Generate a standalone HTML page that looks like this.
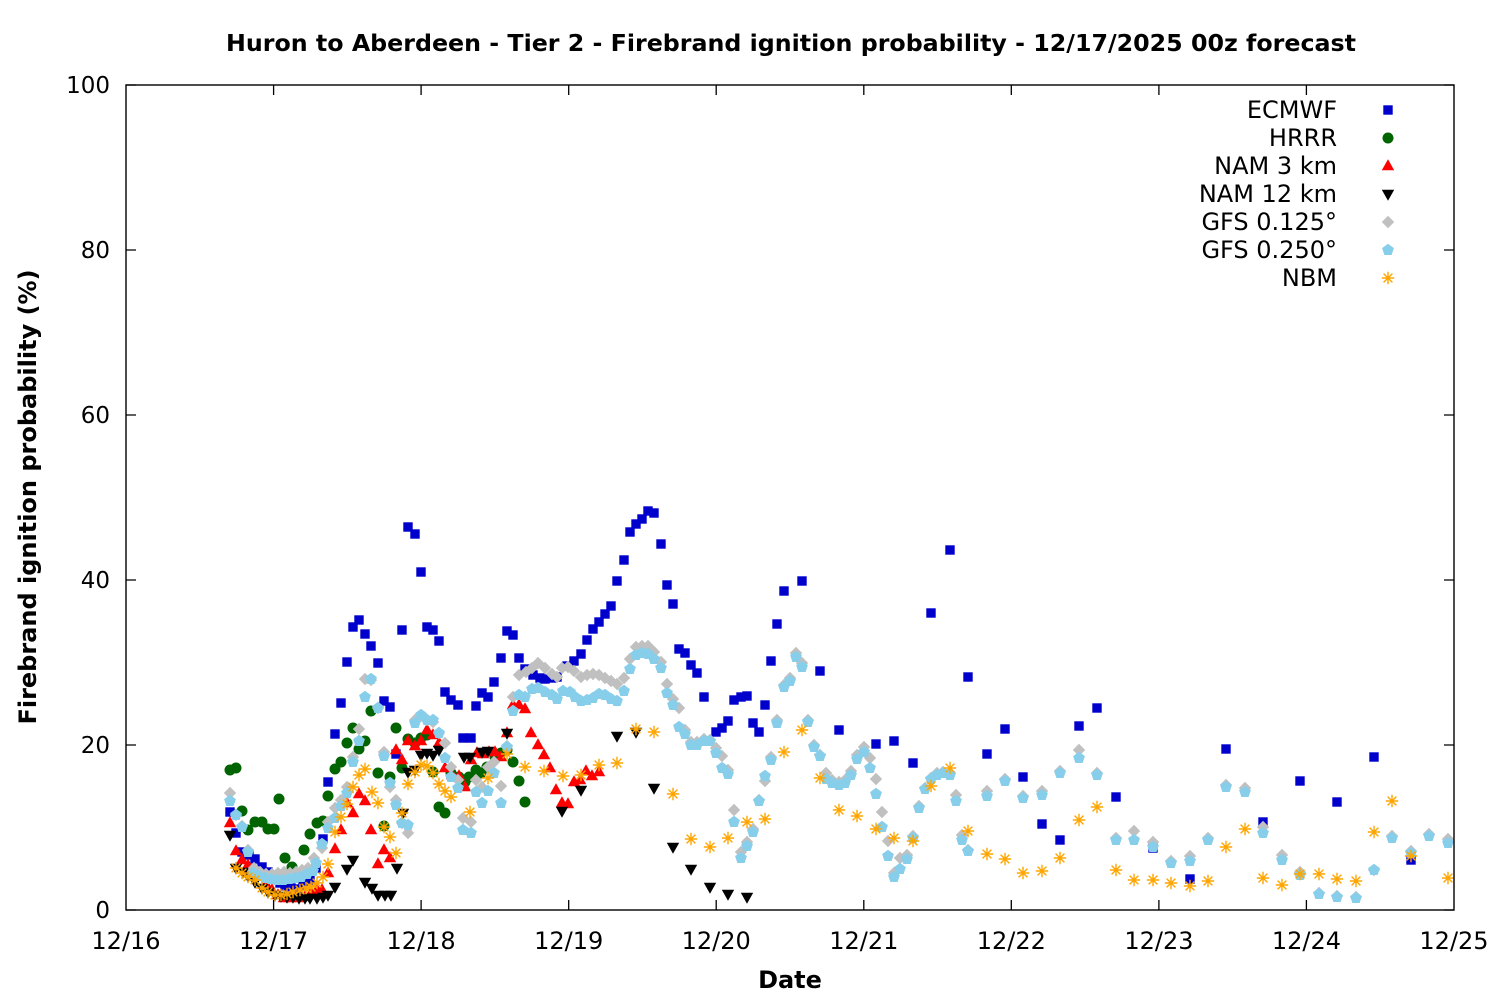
<!DOCTYPE html>
<html><head><meta charset="utf-8"><style>
html,body{margin:0;padding:0;background:#fff;}
svg{display:block;}
text{font-family:"DejaVu Sans","Liberation Sans",sans-serif;fill:#000;}
</style></head><body>
<svg width="1500" height="1000" viewBox="0 0 1500 1000" xmlns="http://www.w3.org/2000/svg">
<defs>
<rect id="sq" x="-4.7" y="-4.7" width="9.4" height="9.4" fill="#0000cc"/>
<circle id="ci" r="5.5" fill="#006400"/>
<polygon id="tu" points="0,-6.8 6.2,4.2 -6.2,4.2" fill="#ff0000"/>
<polygon id="td" points="0,6.8 6.2,-4.2 -6.2,-4.2" fill="#000000"/>
<polygon id="di" points="0,-6.2 6.2,0 0,6.2 -6.2,0" fill="#c0c0c0"/>
<polygon id="pe" points="0,-6.2 5.9,-1.9 3.6,5 -3.6,5 -5.9,-1.9" fill="#87ceeb"/>
<g id="st" stroke="#ffa500" stroke-width="1.4" fill="none"><path d="M-6.2,0H6.2M0,-6.2V6.2M-4.4,-4.4L4.4,4.4M-4.4,4.4L4.4,-4.4"/></g>
</defs>
<rect x="0" y="0" width="1500" height="1000" fill="#fff"/>
<text x="791" y="51" text-anchor="middle" font-size="23" font-weight="bold" textLength="1130" lengthAdjust="spacingAndGlyphs">Huron to Aberdeen - Tier 2 - Firebrand ignition probability - 12/17/2025 00z forecast</text>

<g stroke="#000" stroke-width="1.3">
<path d="M126,910H136M1454,910H1444M126,745H136M1454,745H1444M126,580H136M1454,580H1444M126,415H136M1454,415H1444M126,250H136M1454,250H1444M126,85H136M1454,85H1444"/>
<path d="M273.6,910V900M273.6,85V95M421.1,910V900M421.1,85V95M568.7,910V900M568.7,85V95M716.2,910V900M716.2,85V95M863.8,910V900M863.8,85V95M1011.3,910V900M1011.3,85V95M1158.9,910V900M1158.9,85V95M1306.4,910V900M1306.4,85V95"/>
</g>

<g font-size="23" text-anchor="end">
<text x="110" y="918">0</text>
<text x="110" y="753">20</text>
<text x="110" y="588">40</text>
<text x="110" y="423">60</text>
<text x="110" y="258">80</text>
<text x="110" y="93">100</text>
</g>
<g font-size="24" text-anchor="middle">
<text x="126" y="949">12/16</text>
<text x="273.6" y="949">12/17</text>
<text x="421.1" y="949">12/18</text>
<text x="568.7" y="949">12/19</text>
<text x="716.2" y="949">12/20</text>
<text x="863.8" y="949">12/21</text>
<text x="1011.3" y="949">12/22</text>
<text x="1158.9" y="949">12/23</text>
<text x="1306.4" y="949">12/24</text>
<text x="1454" y="949">12/25</text>
</g>
<text x="790" y="988" text-anchor="middle" font-size="24" font-weight="bold">Date</text>
<text transform="translate(36,497) rotate(-90)" text-anchor="middle" font-size="24" font-weight="bold">Firebrand ignition probability (%)</text>

<!-- legend -->
<g font-size="24" text-anchor="end">
<text x="1337" y="118">ECMWF</text>
<text x="1337" y="146">HRRR</text>
<text x="1337" y="174">NAM 3 km</text>
<text x="1337" y="202">NAM 12 km</text>
<text x="1337" y="230">GFS 0.125°</text>
<text x="1337" y="258">GFS 0.250°</text>
<text x="1337" y="286">NBM</text>
</g>
<use href="#sq" x="1388" y="110"/>
<use href="#ci" x="1388" y="138"/>
<use href="#tu" x="1388" y="166"/>
<use href="#td" x="1388" y="194"/>
<use href="#di" x="1388" y="222"/>
<use href="#pe" x="1388" y="250"/>
<use href="#st" x="1388" y="278"/>

<!-- ECMWF -->
<g>
<use href="#sq" x="230" y="812"/><use href="#sq" x="236" y="833"/><use href="#sq" x="242" y="852"/><use href="#sq" x="249" y="855"/><use href="#sq" x="255" y="859"/><use href="#sq" x="262" y="867"/><use href="#sq" x="268" y="872"/><use href="#sq" x="274" y="878"/><use href="#sq" x="280" y="883"/><use href="#sq" x="285" y="886"/><use href="#sq" x="291" y="888"/><use href="#sq" x="297" y="889"/><use href="#sq" x="303" y="885"/><use href="#sq" x="310" y="880"/><use href="#sq" x="316" y="868"/><use href="#sq" x="323" y="839"/><use href="#sq" x="328" y="782"/><use href="#sq" x="335" y="734"/><use href="#sq" x="341" y="703"/><use href="#sq" x="347" y="662"/><use href="#sq" x="353" y="627"/><use href="#sq" x="359" y="620"/><use href="#sq" x="365" y="634"/><use href="#sq" x="371" y="646"/><use href="#sq" x="378" y="663"/><use href="#sq" x="384" y="701"/><use href="#sq" x="390" y="707"/><use href="#sq" x="396" y="754"/><use href="#sq" x="402" y="630"/><use href="#sq" x="408" y="527"/><use href="#sq" x="415" y="534"/><use href="#sq" x="421" y="572"/><use href="#sq" x="427" y="627"/><use href="#sq" x="433" y="630"/><use href="#sq" x="439" y="641"/><use href="#sq" x="445" y="692"/><use href="#sq" x="451" y="700"/><use href="#sq" x="458" y="705"/><use href="#sq" x="463" y="738"/><use href="#sq" x="471" y="738"/><use href="#sq" x="476" y="706"/><use href="#sq" x="482" y="693"/><use href="#sq" x="488" y="697"/><use href="#sq" x="494" y="682"/><use href="#sq" x="501" y="658"/><use href="#sq" x="507" y="631"/><use href="#sq" x="513" y="635"/><use href="#sq" x="519" y="658"/><use href="#sq" x="525" y="669"/><use href="#sq" x="533" y="675"/><use href="#sq" x="540" y="678"/><use href="#sq" x="545" y="679"/><use href="#sq" x="552" y="678"/><use href="#sq" x="557" y="677"/><use href="#sq" x="567" y="666"/><use href="#sq" x="574" y="661"/><use href="#sq" x="581" y="654"/><use href="#sq" x="587" y="640"/><use href="#sq" x="593" y="629"/><use href="#sq" x="599" y="622"/><use href="#sq" x="605" y="614"/><use href="#sq" x="611" y="606"/><use href="#sq" x="617" y="581"/><use href="#sq" x="624" y="560"/><use href="#sq" x="630" y="532"/><use href="#sq" x="636" y="524"/><use href="#sq" x="642" y="519"/><use href="#sq" x="648" y="511"/><use href="#sq" x="654" y="513"/><use href="#sq" x="661" y="544"/><use href="#sq" x="667" y="585"/><use href="#sq" x="673" y="604"/><use href="#sq" x="679" y="649"/><use href="#sq" x="685" y="653"/><use href="#sq" x="691" y="665"/><use href="#sq" x="697" y="673"/><use href="#sq" x="704" y="697"/><use href="#sq" x="716" y="732"/><use href="#sq" x="722" y="728"/><use href="#sq" x="728" y="721"/><use href="#sq" x="734" y="700"/><use href="#sq" x="741" y="697"/><use href="#sq" x="747" y="696"/><use href="#sq" x="753" y="723"/><use href="#sq" x="759" y="732"/><use href="#sq" x="765" y="705"/><use href="#sq" x="771" y="661"/><use href="#sq" x="777" y="624"/><use href="#sq" x="784" y="591"/><use href="#sq" x="802" y="581"/><use href="#sq" x="820" y="671"/><use href="#sq" x="839" y="730"/><use href="#sq" x="876" y="744"/><use href="#sq" x="894" y="741"/><use href="#sq" x="913" y="763"/><use href="#sq" x="931" y="613"/><use href="#sq" x="950" y="550"/><use href="#sq" x="968" y="677"/><use href="#sq" x="987" y="754"/><use href="#sq" x="1005" y="729"/><use href="#sq" x="1023" y="777"/><use href="#sq" x="1042" y="824"/><use href="#sq" x="1060" y="840"/><use href="#sq" x="1079" y="726"/><use href="#sq" x="1097" y="708"/><use href="#sq" x="1116" y="797"/><use href="#sq" x="1153" y="848"/><use href="#sq" x="1190" y="879"/><use href="#sq" x="1226" y="749"/><use href="#sq" x="1263" y="822"/><use href="#sq" x="1300" y="781"/><use href="#sq" x="1337" y="802"/><use href="#sq" x="1374" y="757"/><use href="#sq" x="1411" y="860"/>
</g>

<!-- HRRR -->
<g>
<use href="#ci" x="230" y="770"/><use href="#ci" x="236" y="768"/><use href="#ci" x="242" y="811"/><use href="#ci" x="248" y="830"/><use href="#ci" x="255" y="822"/><use href="#ci" x="262" y="822"/><use href="#ci" x="268" y="829"/><use href="#ci" x="274" y="829"/><use href="#ci" x="279" y="799"/><use href="#ci" x="285" y="858"/><use href="#ci" x="292" y="867"/><use href="#ci" x="298" y="875"/><use href="#ci" x="304" y="850"/><use href="#ci" x="310" y="834"/><use href="#ci" x="317" y="823"/><use href="#ci" x="323" y="821"/><use href="#ci" x="328" y="796"/><use href="#ci" x="335" y="769"/><use href="#ci" x="341" y="762"/><use href="#ci" x="347" y="743"/><use href="#ci" x="353" y="728"/><use href="#ci" x="359" y="749"/><use href="#ci" x="365" y="741"/><use href="#ci" x="371" y="711"/><use href="#ci" x="378" y="773"/><use href="#ci" x="384" y="826"/><use href="#ci" x="390" y="777"/><use href="#ci" x="396" y="728"/><use href="#ci" x="402" y="768"/><use href="#ci" x="408" y="739"/><use href="#ci" x="415" y="743"/><use href="#ci" x="421" y="738"/><use href="#ci" x="427" y="735"/><use href="#ci" x="433" y="772"/><use href="#ci" x="439" y="807"/><use href="#ci" x="445" y="813"/><use href="#ci" x="451" y="773"/><use href="#ci" x="459" y="777"/><use href="#ci" x="465" y="782"/><use href="#ci" x="469" y="777"/><use href="#ci" x="476" y="770"/><use href="#ci" x="481" y="773"/><use href="#ci" x="487" y="767"/><use href="#ci" x="495" y="757"/><use href="#ci" x="501" y="753"/><use href="#ci" x="507" y="750"/><use href="#ci" x="513" y="762"/><use href="#ci" x="519" y="781"/><use href="#ci" x="525" y="802"/>
</g>

<!-- NAM 3 km -->
<g>
<use href="#tu" x="230" y="823"/><use href="#tu" x="236" y="851"/><use href="#tu" x="242" y="860"/><use href="#tu" x="248" y="865"/><use href="#tu" x="254" y="870"/><use href="#tu" x="260" y="876"/><use href="#tu" x="266" y="884"/><use href="#tu" x="272" y="890"/><use href="#tu" x="278" y="895"/><use href="#tu" x="284" y="898"/><use href="#tu" x="290" y="898"/><use href="#tu" x="297" y="898"/><use href="#tu" x="305" y="897"/><use href="#tu" x="311" y="893"/><use href="#tu" x="317" y="890"/><use href="#tu" x="322" y="890"/><use href="#tu" x="328" y="873"/><use href="#tu" x="335" y="849"/><use href="#tu" x="341" y="830"/><use href="#tu" x="347" y="803"/><use href="#tu" x="353" y="813"/><use href="#tu" x="359" y="794"/><use href="#tu" x="365" y="801"/><use href="#tu" x="371" y="830"/><use href="#tu" x="378" y="864"/><use href="#tu" x="384" y="850"/><use href="#tu" x="390" y="858"/><use href="#tu" x="396" y="750"/><use href="#tu" x="402" y="760"/><use href="#tu" x="408" y="741"/><use href="#tu" x="415" y="746"/><use href="#tu" x="421" y="741"/><use href="#tu" x="427" y="730"/><use href="#tu" x="433" y="735"/><use href="#tu" x="439" y="743"/><use href="#tu" x="445" y="768"/><use href="#tu" x="452" y="775"/><use href="#tu" x="459" y="776"/><use href="#tu" x="465" y="787"/><use href="#tu" x="471" y="760"/><use href="#tu" x="477" y="753"/><use href="#tu" x="483" y="754"/><use href="#tu" x="489" y="752"/><use href="#tu" x="495" y="752"/><use href="#tu" x="501" y="757"/><use href="#tu" x="507" y="733"/><use href="#tu" x="513" y="705"/><use href="#tu" x="519" y="705"/><use href="#tu" x="525" y="709"/><use href="#tu" x="531" y="733"/><use href="#tu" x="538" y="745"/><use href="#tu" x="544" y="755"/><use href="#tu" x="550" y="768"/><use href="#tu" x="556" y="790"/><use href="#tu" x="562" y="803"/><use href="#tu" x="568" y="804"/><use href="#tu" x="574" y="782"/><use href="#tu" x="580" y="780"/><use href="#tu" x="586" y="771"/><use href="#tu" x="592" y="776"/><use href="#tu" x="599" y="772"/>
</g>

<!-- NAM 12 km -->
<g>
<use href="#td" x="230" y="835"/><use href="#td" x="236" y="868"/><use href="#td" x="243" y="872"/><use href="#td" x="248" y="876"/><use href="#td" x="255" y="882"/><use href="#td" x="262" y="888"/><use href="#td" x="268" y="892"/><use href="#td" x="275" y="895"/><use href="#td" x="281" y="896"/><use href="#td" x="287" y="897"/><use href="#td" x="293" y="897"/><use href="#td" x="299" y="898"/><use href="#td" x="305" y="898"/><use href="#td" x="310" y="898"/><use href="#td" x="317" y="898"/><use href="#td" x="323" y="897"/><use href="#td" x="328" y="895"/><use href="#td" x="335" y="887"/><use href="#td" x="347" y="869"/><use href="#td" x="353" y="860"/><use href="#td" x="365" y="882"/><use href="#td" x="372" y="888"/><use href="#td" x="378" y="895"/><use href="#td" x="385" y="895"/><use href="#td" x="391" y="895"/><use href="#td" x="397" y="868"/><use href="#td" x="403" y="813"/><use href="#td" x="408" y="772"/><use href="#td" x="415" y="770"/><use href="#td" x="421" y="755"/><use href="#td" x="427" y="753"/><use href="#td" x="433" y="755"/><use href="#td" x="439" y="750"/><use href="#td" x="464" y="757"/><use href="#td" x="470" y="757"/><use href="#td" x="482" y="752"/><use href="#td" x="488" y="751"/><use href="#td" x="507" y="733"/><use href="#td" x="562" y="811"/><use href="#td" x="581" y="790"/><use href="#td" x="617" y="736"/><use href="#td" x="636" y="732"/><use href="#td" x="654" y="788"/><use href="#td" x="673" y="847"/><use href="#td" x="691" y="869"/><use href="#td" x="710" y="887"/><use href="#td" x="728" y="894"/><use href="#td" x="747" y="897"/>
</g>

<!-- GFS 0.125 -->
<g>
<use href="#di" x="230" y="793"/><use href="#di" x="236" y="815"/><use href="#di" x="242" y="826"/><use href="#di" x="248" y="850"/><use href="#di" x="254" y="868"/><use href="#di" x="260" y="872"/><use href="#di" x="266" y="874"/><use href="#di" x="272" y="874"/><use href="#di" x="278" y="873"/><use href="#di" x="284" y="872"/><use href="#di" x="290" y="873"/><use href="#di" x="296" y="872"/><use href="#di" x="302" y="870"/><use href="#di" x="308" y="868"/><use href="#di" x="314" y="858"/><use href="#di" x="322" y="848"/><use href="#di" x="328" y="822"/><use href="#di" x="335" y="808"/><use href="#di" x="341" y="800"/><use href="#di" x="347" y="787"/><use href="#di" x="353" y="757"/><use href="#di" x="359" y="729"/><use href="#di" x="365" y="679"/><use href="#di" x="371" y="680"/><use href="#di" x="378" y="708"/><use href="#di" x="384" y="752"/><use href="#di" x="390" y="787"/><use href="#di" x="396" y="800"/><use href="#di" x="402" y="823"/><use href="#di" x="408" y="833"/><use href="#di" x="415" y="720"/><use href="#di" x="421" y="716"/><use href="#di" x="427" y="720"/><use href="#di" x="433" y="722"/><use href="#di" x="439" y="733"/><use href="#di" x="445" y="743"/><use href="#di" x="451" y="767"/><use href="#di" x="458" y="780"/><use href="#di" x="463" y="818"/><use href="#di" x="471" y="822"/><use href="#di" x="476" y="780"/><use href="#di" x="482" y="787"/><use href="#di" x="488" y="767"/><use href="#di" x="494" y="762"/><use href="#di" x="501" y="786"/><use href="#di" x="507" y="746"/><use href="#di" x="513" y="697"/><use href="#di" x="519" y="675"/><use href="#di" x="526" y="672"/><use href="#di" x="532" y="668"/><use href="#di" x="538" y="663"/><use href="#di" x="545" y="668"/><use href="#di" x="552" y="674"/><use href="#di" x="557" y="677"/><use href="#di" x="562" y="668"/><use href="#di" x="568" y="667"/><use href="#di" x="574" y="671"/><use href="#di" x="581" y="677"/><use href="#di" x="587" y="675"/><use href="#di" x="593" y="674"/><use href="#di" x="599" y="675"/><use href="#di" x="605" y="678"/><use href="#di" x="611" y="681"/><use href="#di" x="617" y="684"/><use href="#di" x="624" y="678"/><use href="#di" x="630" y="659"/><use href="#di" x="636" y="647"/><use href="#di" x="642" y="646"/><use href="#di" x="648" y="646"/><use href="#di" x="654" y="652"/><use href="#di" x="661" y="662"/><use href="#di" x="667" y="684"/><use href="#di" x="673" y="699"/><use href="#di" x="679" y="708"/><use href="#di" x="685" y="730"/><use href="#di" x="691" y="742"/><use href="#di" x="697" y="742"/><use href="#di" x="704" y="739"/><use href="#di" x="710" y="740"/><use href="#di" x="716" y="748"/><use href="#di" x="722" y="756"/><use href="#di" x="728" y="770"/><use href="#di" x="734" y="810"/><use href="#di" x="741" y="852"/><use href="#di" x="747" y="842"/><use href="#di" x="753" y="829"/><use href="#di" x="759" y="800"/><use href="#di" x="765" y="781"/><use href="#di" x="771" y="757"/><use href="#di" x="777" y="720"/><use href="#di" x="784" y="685"/><use href="#di" x="790" y="678"/><use href="#di" x="796" y="653"/><use href="#di" x="802" y="663"/><use href="#di" x="808" y="720"/><use href="#di" x="814" y="745"/><use href="#di" x="820" y="755"/><use href="#di" x="826" y="773"/><use href="#di" x="832" y="780"/><use href="#di" x="839" y="782"/><use href="#di" x="845" y="780"/><use href="#di" x="851" y="771"/><use href="#di" x="857" y="755"/><use href="#di" x="864" y="747"/><use href="#di" x="870" y="758"/><use href="#di" x="876" y="779"/><use href="#di" x="882" y="812"/><use href="#di" x="888" y="841"/><use href="#di" x="894" y="873"/><use href="#di" x="900" y="858"/><use href="#di" x="907" y="855"/><use href="#di" x="913" y="836"/><use href="#di" x="919" y="806"/><use href="#di" x="925" y="788"/><use href="#di" x="931" y="778"/><use href="#di" x="937" y="773"/><use href="#di" x="943" y="772"/><use href="#di" x="950" y="773"/><use href="#di" x="956" y="795"/><use href="#di" x="962" y="835"/><use href="#di" x="968" y="850"/><use href="#di" x="987" y="791"/><use href="#di" x="1005" y="779"/><use href="#di" x="1023" y="796"/><use href="#di" x="1042" y="791"/><use href="#di" x="1060" y="771"/><use href="#di" x="1079" y="750"/><use href="#di" x="1097" y="773"/><use href="#di" x="1116" y="838"/><use href="#di" x="1134" y="831"/><use href="#di" x="1153" y="842"/><use href="#di" x="1171" y="861"/><use href="#di" x="1190" y="856"/><use href="#di" x="1208" y="838"/><use href="#di" x="1226" y="785"/><use href="#di" x="1245" y="788"/><use href="#di" x="1263" y="827"/><use href="#di" x="1282" y="855"/><use href="#di" x="1300" y="872"/><use href="#di" x="1319" y="893"/><use href="#di" x="1337" y="896"/><use href="#di" x="1356" y="897"/><use href="#di" x="1374" y="870"/><use href="#di" x="1392" y="836"/><use href="#di" x="1411" y="851"/><use href="#di" x="1429" y="834"/><use href="#di" x="1448" y="839"/>
</g>

<!-- GFS 0.250 -->
<g>
<use href="#pe" x="230" y="801"/><use href="#pe" x="236" y="815"/><use href="#pe" x="242" y="827"/><use href="#pe" x="248" y="852"/><use href="#pe" x="253" y="873"/><use href="#pe" x="259" y="876"/><use href="#pe" x="265" y="878"/><use href="#pe" x="271" y="879"/><use href="#pe" x="277" y="880"/><use href="#pe" x="283" y="880"/><use href="#pe" x="289" y="879"/><use href="#pe" x="295" y="878"/><use href="#pe" x="301" y="877"/><use href="#pe" x="307" y="874"/><use href="#pe" x="313" y="871"/><use href="#pe" x="316" y="863"/><use href="#pe" x="322" y="844"/><use href="#pe" x="328" y="828"/><use href="#pe" x="335" y="818"/><use href="#pe" x="341" y="806"/><use href="#pe" x="347" y="793"/><use href="#pe" x="353" y="762"/><use href="#pe" x="359" y="741"/><use href="#pe" x="365" y="697"/><use href="#pe" x="371" y="679"/><use href="#pe" x="378" y="708"/><use href="#pe" x="384" y="756"/><use href="#pe" x="390" y="783"/><use href="#pe" x="396" y="805"/><use href="#pe" x="402" y="823"/><use href="#pe" x="408" y="825"/><use href="#pe" x="415" y="723"/><use href="#pe" x="421" y="715"/><use href="#pe" x="427" y="720"/><use href="#pe" x="433" y="720"/><use href="#pe" x="439" y="733"/><use href="#pe" x="445" y="758"/><use href="#pe" x="451" y="777"/><use href="#pe" x="458" y="788"/><use href="#pe" x="463" y="830"/><use href="#pe" x="471" y="833"/><use href="#pe" x="476" y="792"/><use href="#pe" x="482" y="803"/><use href="#pe" x="488" y="791"/><use href="#pe" x="494" y="773"/><use href="#pe" x="501" y="803"/><use href="#pe" x="507" y="747"/><use href="#pe" x="513" y="711"/><use href="#pe" x="519" y="695"/><use href="#pe" x="525" y="697"/><use href="#pe" x="532" y="689"/><use href="#pe" x="538" y="688"/><use href="#pe" x="545" y="692"/><use href="#pe" x="552" y="695"/><use href="#pe" x="557" y="699"/><use href="#pe" x="563" y="691"/><use href="#pe" x="570" y="692"/><use href="#pe" x="575" y="697"/><use href="#pe" x="581" y="701"/><use href="#pe" x="587" y="700"/><use href="#pe" x="593" y="698"/><use href="#pe" x="599" y="694"/><use href="#pe" x="605" y="695"/><use href="#pe" x="611" y="699"/><use href="#pe" x="617" y="701"/><use href="#pe" x="624" y="691"/><use href="#pe" x="630" y="669"/><use href="#pe" x="636" y="655"/><use href="#pe" x="642" y="653"/><use href="#pe" x="648" y="654"/><use href="#pe" x="654" y="659"/><use href="#pe" x="661" y="668"/><use href="#pe" x="667" y="693"/><use href="#pe" x="673" y="705"/><use href="#pe" x="679" y="727"/><use href="#pe" x="685" y="734"/><use href="#pe" x="691" y="745"/><use href="#pe" x="697" y="745"/><use href="#pe" x="704" y="741"/><use href="#pe" x="710" y="741"/><use href="#pe" x="716" y="753"/><use href="#pe" x="722" y="768"/><use href="#pe" x="728" y="774"/><use href="#pe" x="734" y="822"/><use href="#pe" x="741" y="858"/><use href="#pe" x="747" y="846"/><use href="#pe" x="753" y="832"/><use href="#pe" x="759" y="801"/><use href="#pe" x="765" y="776"/><use href="#pe" x="771" y="760"/><use href="#pe" x="777" y="723"/><use href="#pe" x="784" y="687"/><use href="#pe" x="790" y="681"/><use href="#pe" x="796" y="657"/><use href="#pe" x="802" y="667"/><use href="#pe" x="808" y="722"/><use href="#pe" x="814" y="747"/><use href="#pe" x="820" y="756"/><use href="#pe" x="826" y="779"/><use href="#pe" x="832" y="783"/><use href="#pe" x="839" y="785"/><use href="#pe" x="845" y="783"/><use href="#pe" x="851" y="775"/><use href="#pe" x="857" y="759"/><use href="#pe" x="864" y="752"/><use href="#pe" x="870" y="768"/><use href="#pe" x="876" y="794"/><use href="#pe" x="882" y="827"/><use href="#pe" x="888" y="856"/><use href="#pe" x="894" y="877"/><use href="#pe" x="900" y="869"/><use href="#pe" x="907" y="859"/><use href="#pe" x="913" y="838"/><use href="#pe" x="919" y="808"/><use href="#pe" x="925" y="789"/><use href="#pe" x="931" y="779"/><use href="#pe" x="937" y="775"/><use href="#pe" x="943" y="773"/><use href="#pe" x="950" y="775"/><use href="#pe" x="956" y="801"/><use href="#pe" x="962" y="840"/><use href="#pe" x="968" y="851"/><use href="#pe" x="987" y="796"/><use href="#pe" x="1005" y="781"/><use href="#pe" x="1023" y="798"/><use href="#pe" x="1042" y="795"/><use href="#pe" x="1060" y="773"/><use href="#pe" x="1079" y="758"/><use href="#pe" x="1097" y="775"/><use href="#pe" x="1116" y="840"/><use href="#pe" x="1134" y="840"/><use href="#pe" x="1153" y="847"/><use href="#pe" x="1171" y="863"/><use href="#pe" x="1190" y="861"/><use href="#pe" x="1208" y="840"/><use href="#pe" x="1226" y="787"/><use href="#pe" x="1245" y="792"/><use href="#pe" x="1263" y="833"/><use href="#pe" x="1282" y="860"/><use href="#pe" x="1300" y="875"/><use href="#pe" x="1319" y="894"/><use href="#pe" x="1337" y="897"/><use href="#pe" x="1356" y="898"/><use href="#pe" x="1374" y="870"/><use href="#pe" x="1392" y="838"/><use href="#pe" x="1411" y="853"/><use href="#pe" x="1429" y="836"/><use href="#pe" x="1448" y="843"/>
</g>

<!-- NBM -->
<g>
<use href="#st" x="236" y="868"/><use href="#st" x="242" y="873"/><use href="#st" x="248" y="877"/><use href="#st" x="255" y="880"/><use href="#st" x="262" y="888"/><use href="#st" x="268" y="892"/><use href="#st" x="275" y="895"/><use href="#st" x="281" y="895"/><use href="#st" x="287" y="894"/><use href="#st" x="293" y="892"/><use href="#st" x="300" y="890"/><use href="#st" x="306" y="888"/><use href="#st" x="311" y="887"/><use href="#st" x="317" y="883"/><use href="#st" x="323" y="877"/><use href="#st" x="328" y="864"/><use href="#st" x="335" y="832"/><use href="#st" x="341" y="817"/><use href="#st" x="347" y="804"/><use href="#st" x="353" y="787"/><use href="#st" x="359" y="775"/><use href="#st" x="365" y="769"/><use href="#st" x="372" y="792"/><use href="#st" x="378" y="803"/><use href="#st" x="384" y="827"/><use href="#st" x="390" y="837"/><use href="#st" x="396" y="853"/><use href="#st" x="402" y="813"/><use href="#st" x="408" y="784"/><use href="#st" x="415" y="772"/><use href="#st" x="421" y="765"/><use href="#st" x="427" y="766"/><use href="#st" x="433" y="773"/><use href="#st" x="439" y="784"/><use href="#st" x="445" y="791"/><use href="#st" x="451" y="797"/><use href="#st" x="470" y="812"/><use href="#st" x="488" y="778"/><use href="#st" x="507" y="754"/><use href="#st" x="525" y="767"/><use href="#st" x="544" y="771"/><use href="#st" x="563" y="776"/><use href="#st" x="581" y="775"/><use href="#st" x="599" y="765"/><use href="#st" x="617" y="763"/><use href="#st" x="636" y="729"/><use href="#st" x="654" y="732"/><use href="#st" x="673" y="794"/><use href="#st" x="691" y="839"/><use href="#st" x="710" y="847"/><use href="#st" x="728" y="838"/><use href="#st" x="747" y="822"/><use href="#st" x="765" y="819"/><use href="#st" x="784" y="752"/><use href="#st" x="802" y="730"/><use href="#st" x="820" y="778"/><use href="#st" x="839" y="810"/><use href="#st" x="857" y="816"/><use href="#st" x="876" y="829"/><use href="#st" x="894" y="838"/><use href="#st" x="913" y="841"/><use href="#st" x="931" y="786"/><use href="#st" x="950" y="768"/><use href="#st" x="968" y="831"/><use href="#st" x="987" y="854"/><use href="#st" x="1005" y="859"/><use href="#st" x="1023" y="873"/><use href="#st" x="1042" y="871"/><use href="#st" x="1060" y="858"/><use href="#st" x="1079" y="820"/><use href="#st" x="1097" y="807"/><use href="#st" x="1116" y="870"/><use href="#st" x="1134" y="880"/><use href="#st" x="1153" y="880"/><use href="#st" x="1171" y="883"/><use href="#st" x="1190" y="886"/><use href="#st" x="1208" y="881"/><use href="#st" x="1226" y="847"/><use href="#st" x="1245" y="829"/><use href="#st" x="1263" y="878"/><use href="#st" x="1282" y="885"/><use href="#st" x="1300" y="874"/><use href="#st" x="1319" y="874"/><use href="#st" x="1337" y="879"/><use href="#st" x="1356" y="881"/><use href="#st" x="1374" y="832"/><use href="#st" x="1392" y="801"/><use href="#st" x="1411" y="856"/><use href="#st" x="1448" y="878"/>
</g>

<rect x="126" y="85" width="1328" height="825" fill="none" stroke="#000" stroke-width="1.4"/>
</svg>
</body></html>
